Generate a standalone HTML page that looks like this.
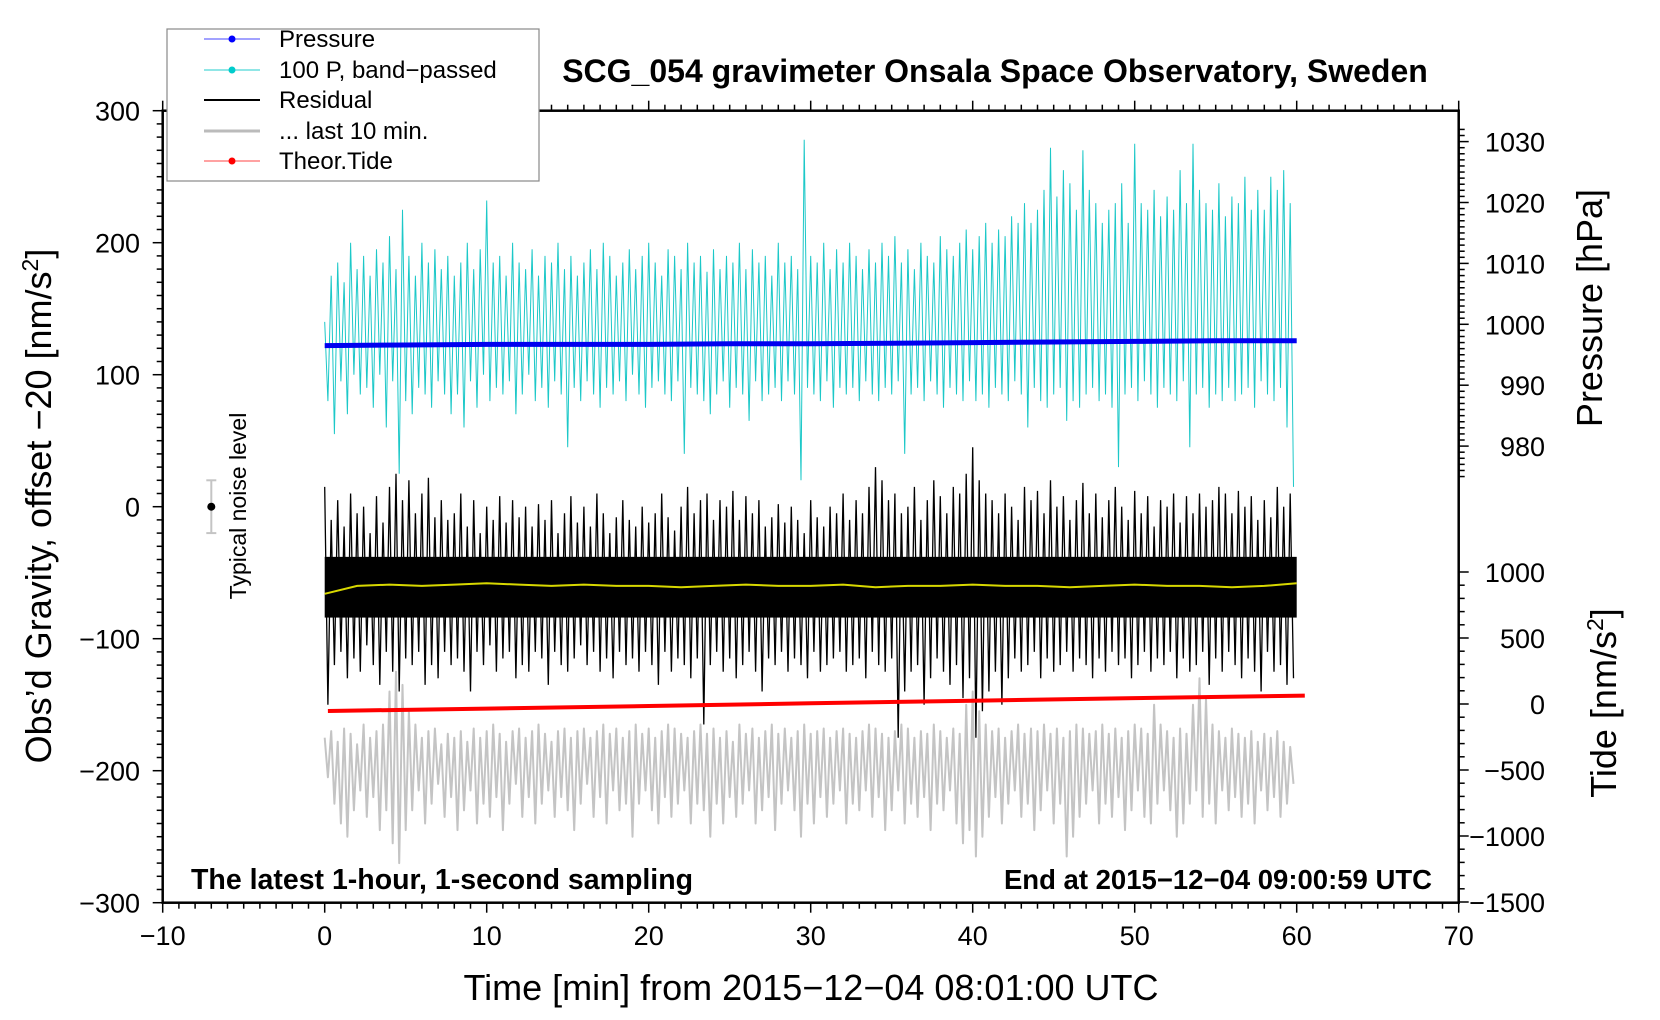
<!DOCTYPE html>
<html><head><meta charset="utf-8"><style>
html,body{margin:0;padding:0;background:#fff}
svg{display:block;font-family:"Liberation Sans",Arial,sans-serif}
</style></head><body>
<svg id="chart" width="1660" height="1020" viewBox="0 0 1660 1020">
<g id="plot"></g>
<g id="axes"></g>
<text x="995" y="82" font-size="32" font-weight="bold" text-anchor="middle">SCG_054 gravimeter Onsala Space Observatory, Sweden</text>
<text x="191" y="889" font-size="28.5" font-weight="bold">The latest 1-hour, 1-second sampling</text>
<text x="1432" y="889" font-size="27.5" font-weight="bold" text-anchor="end">End at 2015−12−04 09:00:59 UTC</text>
<text x="811" y="1000" font-size="36" text-anchor="middle">Time [min] from 2015−12−04 08:01:00 UTC</text>
<text transform="translate(51,506) rotate(-90)" font-size="36" text-anchor="middle">Obs’d Gravity, offset −20 [nm/s<tspan font-size="23" dy="-13">2</tspan><tspan dy="13">]</tspan></text>
<text transform="translate(1602,308) rotate(-90)" font-size="36" text-anchor="middle">Pressure [hPa]</text>
<text transform="translate(1616,703) rotate(-90)" font-size="36" text-anchor="middle">Tide [nm/s<tspan font-size="23" dy="-13">2</tspan><tspan dy="13">]</tspan></text>
<g>
<text transform="translate(246,506) rotate(-90)" font-size="23" text-anchor="middle">Typical noise level</text>
<g id="noise"></g>
</g>
<g>
<rect x="167" y="29" width="372" height="152" fill="#fff" stroke="#888" stroke-width="1.2"/>
<g><line x1="204" y1="39" x2="260" y2="39" stroke="#44f" stroke-width="1"/><circle cx="232" cy="39" r="3.5" fill="#00f"/><text x="279" y="47" font-size="24">Pressure</text></g>
<g><line x1="204" y1="70" x2="260" y2="70" stroke="#2cc" stroke-width="1"/><circle cx="232" cy="70" r="3.5" fill="#0cc"/><text x="279" y="78" font-size="24">100 P, band−passed</text></g>
<g><line x1="204" y1="100" x2="260" y2="100" stroke="#000" stroke-width="2"/><text x="279" y="108" font-size="24">Residual</text></g>
<g><line x1="204" y1="131" x2="260" y2="131" stroke="#bbb" stroke-width="3"/><text x="279" y="139" font-size="24">... last 10 min.</text></g>
<g><line x1="204" y1="161" x2="260" y2="161" stroke="#f44" stroke-width="1"/><circle cx="232" cy="161" r="3.5" fill="#f00"/><text x="279" y="169" font-size="24">Theor.Tide</text></g>
</g>
</svg>
<script>
const resHi=[15,-10,5,-15,10,-5,0,-20,8,-12,15,25,5,20,-5,10,22,-8,5,-10,-5,10,-15,5,-20,0,-10,8,-12,5,-8,0,-15,2,-10,5,-20,-5,8,-12,0,-15,10,-5,-20,-8,5,-10,-15,0,-12,-5,10,-8,-18,0,15,-5,5,10,-10,5,0,12,-10,8,-5,5,-15,-8,2,-12,0,-10,-20,5,-8,-15,0,-5,10,-10,5,-5,15,30,20,5,10,-5,0,15,-10,5,20,8,-5,15,10,25,45,20,10,5,-5,10,0,-10,15,5,12,-5,20,0,8,-10,5,18,-5,10,-8,5,15,0,-10,12,-5,8,-15,5,0,10,-12,8,-5,10,0,5,15,10,-5,12,0,8,-10,5,-8,15,0,10];
const resLo=[-150,-120,-110,-130,-115,-125,-105,-120,-135,-110,-125,-140,-115,-120,-110,-135,-120,-130,-110,-120,-115,-125,-140,-110,-120,-105,-125,-115,-110,-130,-120,-125,-110,-115,-135,-110,-120,-125,-115,-105,-120,-110,-125,-115,-130,-110,-120,-115,-125,-110,-120,-135,-110,-125,-115,-120,-130,-115,-165,-120,-110,-125,-115,-130,-120,-110,-125,-140,-115,-120,-110,-125,-115,-120,-130,-110,-125,-120,-115,-110,-125,-120,-115,-130,-110,-120,-125,-115,-175,-140,-125,-120,-150,-130,-115,-125,-135,-120,-145,-130,-175,-155,-140,-125,-150,-130,-115,-125,-120,-110,-130,-115,-125,-120,-110,-125,-115,-120,-130,-115,-125,-110,-120,-115,-130,-120,-110,-125,-115,-120,-110,-130,-115,-125,-120,-110,-135,-115,-125,-110,-120,-130,-115,-125,-140,-110,-125,-120,-135,-130];
const cyHi=[140,175,185,170,200,180,190,175,195,185,205,180,225,190,175,200,185,195,180,190,175,185,200,180,195,232,185,190,175,200,185,180,195,175,190,185,200,180,190,175,185,195,180,200,190,175,185,195,180,190,200,185,175,195,190,180,200,185,190,178,195,180,190,185,200,180,195,185,190,175,200,185,190,180,278,190,185,200,180,195,185,200,190,180,195,185,200,190,205,185,195,180,200,190,185,205,195,190,200,210,195,205,215,200,210,205,220,215,230,215,225,240,272,235,255,245,225,270,240,230,215,225,230,245,215,275,230,225,240,220,235,225,255,230,275,240,230,225,245,220,235,230,250,225,240,225,250,240,255,230];
const cyLo=[80,55,95,70,100,85,90,75,100,60,95,25,80,70,90,85,75,95,85,70,85,60,95,75,100,80,90,85,95,70,85,100,80,90,75,95,85,45,90,80,95,85,75,90,85,95,80,100,85,75,90,95,85,80,95,40,90,85,80,70,85,95,75,90,85,65,95,80,85,90,80,95,85,20,90,85,80,95,75,90,85,90,80,95,85,80,90,85,95,40,85,90,80,95,85,75,90,85,80,95,80,85,75,90,85,80,95,85,60,90,80,75,85,90,65,80,75,85,90,80,85,75,30,85,90,80,95,85,75,90,85,80,95,45,85,90,75,85,80,90,80,85,90,75,95,85,80,90,60,15];
const greyHi=[-175,-170,-178,-168,-172,-180,-165,-175,-170,-165,-140,-125,-135,-155,-165,-175,-170,-168,-180,-172,-175,-170,-178,-168,-175,-170,-165,-172,-178,-170,-168,-175,-170,-165,-172,-178,-170,-168,-175,-170,-168,-175,-170,-165,-172,-168,-175,-170,-165,-172,-168,-175,-170,-165,-168,-172,-175,-170,-165,-172,-168,-175,-170,-178,-165,-172,-168,-175,-170,-165,-172,-168,-175,-170,-165,-172,-170,-168,-175,-170,-168,-172,-175,-170,-165,-168,-172,-175,-170,-165,-168,-175,-170,-172,-165,-170,-175,-168,-172,-150,-140,-155,-165,-170,-168,-175,-170,-165,-172,-168,-170,-165,-172,-168,-175,-170,-165,-168,-172,-170,-165,-172,-168,-175,-170,-165,-168,-172,-150,-165,-170,-175,-168,-172,-150,-130,-145,-165,-170,-175,-168,-172,-175,-170,-178,-172,-175,-170,-178,-182];
const greyLo=[-205,-225,-240,-250,-230,-215,-235,-220,-245,-230,-255,-270,-245,-230,-215,-240,-225,-210,-235,-220,-245,-230,-215,-240,-225,-235,-220,-245,-225,-210,-235,-220,-240,-225,-215,-235,-220,-230,-245,-225,-210,-235,-220,-240,-215,-230,-225,-250,-225,-215,-230,-240,-220,-235,-225,-215,-240,-225,-230,-250,-225,-240,-220,-235,-225,-215,-240,-230,-220,-245,-225,-215,-230,-250,-225,-240,-220,-235,-225,-215,-240,-225,-230,-215,-235,-220,-245,-230,-215,-240,-225,-235,-220,-245,-225,-230,-215,-240,-255,-245,-265,-250,-235,-220,-240,-225,-215,-235,-225,-245,-230,-215,-240,-225,-265,-250,-235,-225,-215,-240,-225,-235,-220,-245,-230,-215,-235,-240,-225,-215,-230,-250,-240,-225,-215,-235,-225,-240,-215,-230,-220,-235,-225,-240,-215,-230,-220,-235,-225,-210];
const yellowVals=[-66,-60,-59,-60,-59,-58,-59,-60,-59,-60,-60,-61,-60,-59,-60,-60,-59,-61,-60,-60,-59,-60,-60,-61,-60,-59,-60,-60,-61,-60,-58];
const pressTimes=[0,5,10,15,20,25,30,35,40,45,50,55,60];
const pressVals=[996.5,996.6,996.7,996.7,996.7,996.8,996.8,996.9,997.0,997.1,997.2,997.3,997.3];
const tideTimes=[0.2,10,20,30,40,50,60.5];
const tideVals=[-53,-35,-15,5,25,45,64];
const xTicks=[-10,0,10,20,30,40,50,60,70];
const yTicks=[300,200,100,0,-100,-200,-300];
const pTicks=[1030,1020,1010,1000,990,980];
const tTicks=[1000,500,0,-500,-1000,-1500];

const X=t=>324.7+t*16.2;
const Y=v=>506.7-v*1.32;
const P=p=>324.3+(1000-p)*6.09;
const T=v=>704-v*0.132;
const NS='http://www.w3.org/2000/svg';
function mk(tag,attrs,parent){const e=document.createElementNS(NS,tag);for(const k in attrs)e.setAttribute(k,attrs[k]);parent.appendChild(e);return e;}
const plot=document.getElementById('plot'),axes=document.getElementById('axes');
const BIN=0.4;

let gp='';greyHi.forEach((h,i)=>{const t=i*BIN;gp+=(i?'L':'M')+X(t).toFixed(1)+','+Y(h).toFixed(1)+'L'+X(t+BIN/2).toFixed(1)+','+Y(greyLo[i]).toFixed(1);});
let g=mk('path',{d:gp,fill:'none',stroke:'#c4c4c4','stroke-width':2,'stroke-linejoin':'round'},plot);



let cp='';cyHi.forEach((h,i)=>{const t=i*BIN;cp+=(i?'L':'M')+X(t).toFixed(1)+','+Y(h).toFixed(1)+'L'+X(t+BIN/2).toFixed(1)+','+Y(cyLo[i]).toFixed(1);});
let c=mk('path',{d:cp,fill:'none',stroke:'#1cc8c8','stroke-width':1},plot);



let core=mk('rect',{x:X(0),y:Y(-38),width:X(60)-X(0),height:Y(-84)-Y(-38),fill:'#000'},plot);


let rp='';resHi.forEach((h,i)=>{const t=i*BIN;rp+=(i?'L':'M')+X(t).toFixed(1)+','+Y(h).toFixed(1)+'L'+X(t+BIN/2).toFixed(1)+','+Y(resLo[i]).toFixed(1);});
let r=mk('path',{d:rp,fill:'none',stroke:'#000','stroke-width':1.3},plot);



let yp=yellowVals.map((v,i)=>(i?'L':'M')+X(i*2).toFixed(1)+','+Y(v).toFixed(1)).join('');
let yl=mk('path',{d:yp,fill:'none',stroke:'#d8d800','stroke-width':2},plot);



let pp=pressVals.map((v,i)=>(i?'L':'M')+X(pressTimes[i]).toFixed(1)+','+P(v).toFixed(1)).join('');
let pl=mk('path',{d:pp,fill:'none',stroke:'#0000f0','stroke-width':5},plot);



let tp=tideVals.map((v,i)=>(i?'L':'M')+X(tideTimes[i]).toFixed(1)+','+T(v).toFixed(1)).join('');
let tl=mk('path',{d:tp,fill:'none',stroke:'#f00','stroke-width':4},plot);



const nz=document.getElementById('noise');
mk('line',{x1:X(-7),y1:Y(20),x2:X(-7),y2:Y(-20),stroke:'#c4c4c4','stroke-width':2},nz);
mk('line',{x1:X(-7)-5,y1:Y(20),x2:X(-7)+5,y2:Y(20),stroke:'#c4c4c4','stroke-width':2},nz);
mk('line',{x1:X(-7)-5,y1:Y(-20),x2:X(-7)+5,y2:Y(-20),stroke:'#c4c4c4','stroke-width':2},nz);
mk('circle',{cx:X(-7),cy:Y(0),r:4,fill:'#000'},nz);

const L=X(-10),R=X(70),TOP=Y(300),BOT=Y(-300);
let fr=mk('rect',{x:L,y:TOP,width:R-L,height:BOT-TOP,fill:'none',stroke:'#000','stroke-width':2.5},axes);


const tk={stroke:'#000','stroke-width':1.5};
for(let m=-10;m<=70;m++){const maj=m%10===0;const len=maj?10:6;
 mk('line',Object.assign({x1:X(m),y1:BOT,x2:X(m),y2:BOT+len},tk),axes);
 mk('line',Object.assign({x1:X(m),y1:TOP,x2:X(m),y2:TOP-len},tk),axes);}
for(let v=-300;v<=300;v+=10){const len=v%100===0?10:6;mk('line',Object.assign({x1:L,y1:Y(v),x2:L-len,y2:Y(v)},tk),axes);}
for(let p=1032;p>=975;p--){const len=p%10===0?10:6;if(P(p)<TOP)continue;mk('line',Object.assign({x1:R,y1:P(p),x2:R+len,y2:P(p)},tk),axes);}
for(let v=1000;v>=-1500;v-=100){const len=v%500===0?10:6;mk('line',Object.assign({x1:R,y1:T(v),x2:R+len,y2:T(v)},tk),axes);}
xTicks.forEach(v=>{const t=mk('text',{x:X(v),y:945,'font-size':27,'text-anchor':'middle'},axes);t.textContent=String(v).replace('-','−');
 
 });
yTicks.forEach(v=>{const t=mk('text',{x:140,y:Y(v)+10,'font-size':27,'text-anchor':'end'},axes);t.textContent=String(v).replace('-','−');
 
 });
pTicks.forEach(v=>{const t=mk('text',{x:1545,y:P(v)+10,'font-size':27,'text-anchor':'end'},axes);t.textContent=String(v);
 
 });
tTicks.forEach(v=>{const t=mk('text',{x:1545,y:T(v)+10,'font-size':27,'text-anchor':'end'},axes);t.textContent=String(v).replace('-','−');
 
 });
</script>
</body></html>
